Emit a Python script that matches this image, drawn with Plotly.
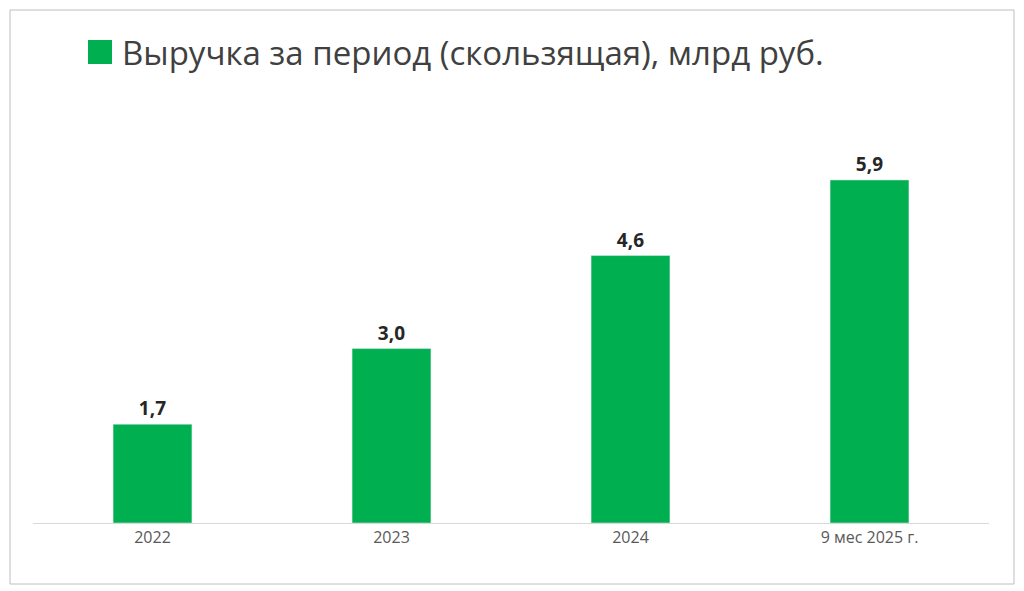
import plotly.graph_objects as go

categories = ["2022", "2023", "2024", "9 мес 2025 г."]
values = [1.7, 3.0, 4.6, 5.9]
labels = ["1,7", "3,0", "4,6", "5,9"]
title = "Выручка за период (скользящая), млрд руб."

OFF = 8
L, R, T, B = 33 - OFF, 35 + OFF, 116 - OFF, 68 + OFF
W, H = 1024, 591
pw, ph = W - L - R, H - T - B
def px(x): return (x - OFF - L) / pw
def py(y): return (H - B - (y - OFF)) / ph

fig = go.Figure(go.Bar(x=categories, y=values, text=labels, textposition="outside",
                       marker_color="#00B050", cliponaxis=False,
                       textfont=dict(size=19, color="#262626", family="Open Sans"),
                       texttemplate="<b>%{text}</b>"))
fig.update_layout(
    width=W, height=H, margin=dict(l=L, r=R, t=T, b=B),
    paper_bgcolor="white", plot_bgcolor="white", bargap=0.67, showlegend=False,
    font=dict(family="Open Sans", color="#595959"),
    xaxis=dict(showline=True, linecolor="#d9d9d9", linewidth=1, tickfont=dict(size=16, color="#595959"), ticks=""),
    yaxis=dict(range=[0, 7], visible=False),
    shapes=[
        dict(type="rect", xref="paper", yref="paper", x0=px(88), x1=px(112), y0=py(64), y1=py(40),
             fillcolor="#00B050", line_width=0),
        dict(type="rect", xref="paper", yref="paper", x0=px(10), x1=px(1014), y0=py(584), y1=py(10),
             line=dict(color="#bfbfbf", width=1)),
    ],
    annotations=[dict(text=title, xref="paper", yref="paper", x=px(120), y=py(52), xanchor="left",
                      yanchor="middle", showarrow=False, font=dict(size=33, color="#404040"))],
)
fig.write_html("out.html")
